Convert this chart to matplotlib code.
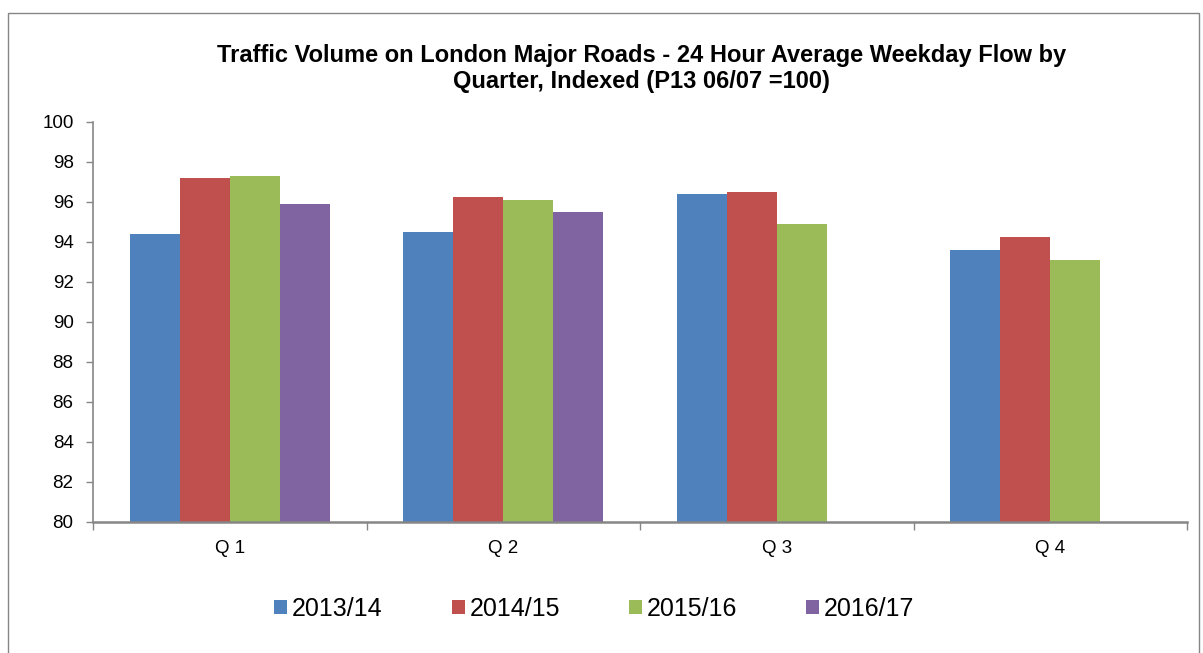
import matplotlib.pyplot as plt
import numpy as np
from matplotlib.patches import Rectangle, Patch

plt.rcParams['font.family'] = ['Liberation Sans', 'DejaVu Sans']

quarters = ['Q 1', 'Q 2', 'Q 3', 'Q 4']
years = ['2013/14', '2014/15', '2015/16', '2016/17']
v_1314 = [94.4, 94.5, 96.4, 93.6]
v_1415 = [97.2, 96.25, 96.5, 94.25]
v_1516 = [97.3, 96.1, 94.9, 93.1]
v_1617 = [95.9, 95.5, np.nan, np.nan]
colors = ['#4F81BD', '#C0504D', '#9BBB59', '#8064A2']

series = [v_1314, v_1415, v_1516, v_1617]

fig = plt.figure(figsize=(12.03, 6.53), dpi=100)
ax = fig.add_axes([93/1203, 1-522/653, (1187-93)/1203, 400/653])

x = np.arange(len(quarters))
w = 0.183
for i, (vals, c) in enumerate(zip(series, colors)):
    ax.bar(x + (i - 1.5) * w, vals, width=w, color=c, bottom=0, edgecolor='none')

ax.set_xlim(-0.5, 3.5)
ax.set_ylim(80, 100)
ax.set_yticks(np.arange(80, 101, 2))
ax.set_xticks(x)
ax.set_xticklabels(quarters)
ax.set_xticks(np.arange(-0.5, 4.0, 1), minor=True)
ax.tick_params(axis='x', which='major', length=0, pad=13, labelsize=13.5)
ax.tick_params(axis='x', which='minor', length=6, color='#868686', width=1)
ax.tick_params(axis='y', length=5, color='#868686', width=1, pad=9, labelsize=13.5)

for s in ['top', 'right']:
    ax.spines[s].set_visible(False)
ax.spines['left'].set_color('#868686')
ax.spines['bottom'].set_color('#868686')
ax.spines['bottom'].set_linewidth(1.8)
ax.spines['left'].set_linewidth(1.2)

fig.text(0.533, 0.895,
         'Traffic Volume on London Major Roads - 24 Hour Average Weekday Flow by\nQuarter, Indexed (P13 06/07 =100)',
         ha='center', va='center', fontsize=17, fontweight='bold', linespacing=1.15)

handles = [Patch(facecolor=c, edgecolor='none') for c in colors]
fig.legend(handles, years, loc='center', bbox_to_anchor=(0.494, 1-609/653), ncol=4,
           frameon=False, fontsize=18, handlelength=0.52, handleheight=0.52,
           handletextpad=0.2, columnspacing=2.75)

fig.add_artist(Rectangle((8/1203, -0.01), (1199-8)/1203, (653-13)/653+0.01,
                         transform=fig.transFigure, fill=False, edgecolor='#868686', lw=1))

fig.savefig('out.png', dpi=100)
